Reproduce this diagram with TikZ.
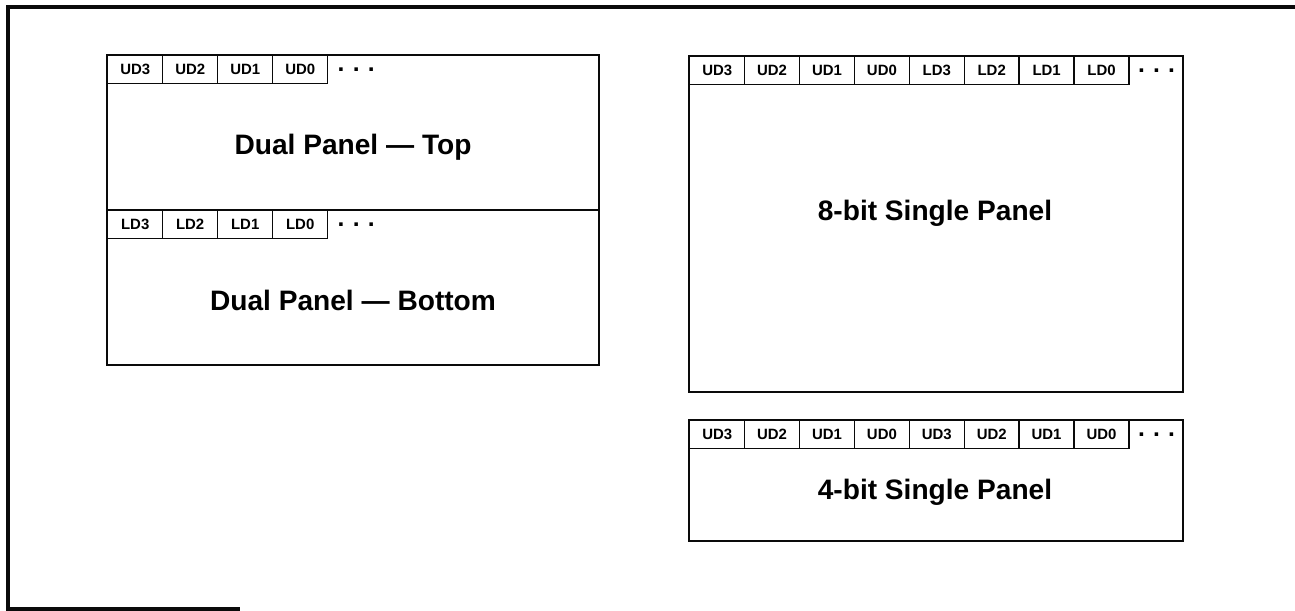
\documentclass[tikz,border=0pt]{standalone}
\usepackage{fontspec}
\setmainfont{Liberation Sans}
\usepackage{tikz}
\usetikzlibrary{positioning}
\definecolor{inkdark}{RGB}{10,10,10}
\tikzset{
  frame/.style={draw=inkdark, line width=1.8pt},
  panel/.style={draw=inkdark, line width=1.1pt},
  cell/.style={
    draw=inkdark,
    line width=0.8pt,
    anchor=north west,
    minimum width=1.1cm,
    minimum height=0.56cm,
    inner sep=0pt,
    font=\fontsize{8.5}{10}\selectfont\bfseries
  },
  dots/.style={font=\fontsize{14}{14}\selectfont\bfseries, inner sep=0pt},
  paneltitle/.style={font=\fontsize{16}{18}\selectfont\bfseries, inner sep=0pt}
}

\begin{document}
\begin{tikzpicture}[x=0.02cm,y=-0.02cm]
  \useasboundingbox (0,0) rectangle (1295,611);
  % outer frame
  \draw[frame] (1295,7) -- (8,7) -- (8,609) -- (240,609);

  % dual panel
  \draw[panel] (107,55) rectangle (599,365);
  \draw[panel] (107,210) -- (599,210);
  \foreach \lbl [count=\i from 0] in {UD3,UD2,UD1,UD0}
    \node[cell] (dt\i) at (107+55*\i,55) {\lbl};
  \node[dots,right=0.18cm of dt3] (dtdots) {.\,\,.\,\,.};
  \node[paneltitle] (dualtop) at (353,147) {Dual Panel --- Top};
  \foreach \lbl [count=\i from 0] in {LD3,LD2,LD1,LD0}
    \node[cell] (db\i) at (107+55*\i,210) {\lbl};
  \node[dots,right=0.18cm of db3] (dbdots) {.\,\,.\,\,.};
  \node[paneltitle] (dualbot) at (353,300) {Dual Panel --- Bottom};

  % 8-bit single panel
  \draw[panel] (689,56) rectangle (1183,392);
  \foreach \lbl [count=\i from 0] in {UD3,UD2,UD1,UD0,LD3,LD2,LD1,LD0}
    \node[cell] (ei\i) at (689+54.9*\i,56) {\lbl};
  \node[dots,right=0.16cm of ei7] (eidots) {.\,\,.\,\,.};
  \node[paneltitle] (eight) at (935,213) {8-bit Single Panel};

  % 4-bit single panel
  \draw[panel] (689,420) rectangle (1183,541);
  \foreach \lbl [count=\i from 0] in {UD3,UD2,UD1,UD0,UD3,UD2,UD1,UD0}
    \node[cell] (fo\i) at (689+54.9*\i,420) {\lbl};
  \node[dots,right=0.16cm of fo7] (fodots) {.\,\,.\,\,.};
  \node[paneltitle] (four) at (935,492) {4-bit Single Panel};
\end{tikzpicture}
\end{document}
